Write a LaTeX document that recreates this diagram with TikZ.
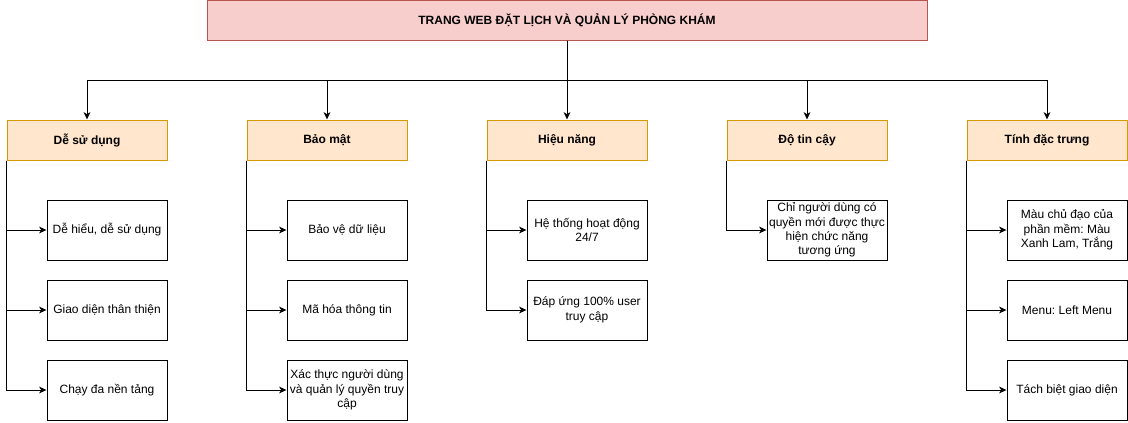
\documentclass[tikz,border=0pt]{standalone}
\usepackage{fontspec}
\setmainfont{Liberation Sans}
\frenchspacing
\usetikzlibrary{arrows.meta}
\definecolor{titlefill}{HTML}{F8CECC}
\definecolor{titledraw}{HTML}{B85450}
\definecolor{catfill}{HTML}{FFE6CC}
\definecolor{catdraw}{HTML}{D79B00}
\tikzset{
  base/.style={font=\fontsize{9pt}{10.8pt}\selectfont, align=center, inner sep=0pt, line width=0.75pt},
  titlebox/.style={base, draw=titledraw, fill=titlefill, minimum width=540pt, minimum height=30pt, font=\fontsize{9pt}{10.8pt}\selectfont\bfseries},
  catbox/.style={base, draw=catdraw, fill=catfill, minimum width=120pt, minimum height=30pt, font=\fontsize{9pt}{10.8pt}\selectfont\bfseries},
  leafbox/.style={base, draw=black, fill=white, minimum width=90pt, minimum height=45pt},
  arr/.style={line width=0.75pt, -{Stealth[length=5.5pt, width=5pt, inset=1.5pt]}},
}
\begin{document}
\begin{tikzpicture}[x=0.75pt, y=-0.75pt]
\useasboundingbox (0,0) rectangle (1128,422);
\node[titlebox] (title) at (567,20) {TRANG WEB ĐẶT LỊCH VÀ QUẢN LÝ PHÒNG KHÁM};
\coordinate (bus) at (567,80);
\node[catbox] (c1) at (87,140) {Dễ sử dụng};
\node[catbox] (c2) at (327,140) {Bảo mật};
\node[catbox] (c3) at (567,140) {Hiệu năng};
\node[catbox] (c4) at (807,140) {Độ tin cậy};
\node[catbox] (c5) at (1047,140) {Tính đặc trưng};

\node[leafbox] (a1) at (107,230) {Dễ hiểu, dễ sử dụng};
\node[leafbox] (a2) at (107,310) {Giao diện thân thiện};
\node[leafbox] (a3) at (107,390) {Chạy đa nền tảng};

\node[leafbox] (b1) at (347,230) {Bảo vệ dữ liệu};
\node[leafbox] (b2) at (347,310) {Mã hóa thông tin};
\node[leafbox] (b3) at (347,390) {Xác thực người dùng\\và quản lý quyền truy\\cập};

\node[leafbox] (d1) at (587,230) {Hệ thống hoạt động\\24/7};
\node[leafbox] (d2) at (587,310) {Đáp ứng 100\% user\\truy cập};

\node[leafbox] (e1) at (827,230) {Chỉ người dùng có\\quyền mới được thực\\hiện chức năng\\tương ứng};

\node[leafbox] (f1) at (1067,230) {Màu chủ đạo của\\phần mềm: Màu\\Xanh Lam, Trắng};
\node[leafbox] (f2) at (1067,310) {Menu: Left Menu};
\node[leafbox] (f3) at (1067,390) {Tách biệt giao diện};

\draw[arr] (title.south) -- (bus) -| (c1.north);
\draw[arr] (title.south) -- (bus) -| (c2.north);
\draw[arr] (title.south) -- (c3.north);
\draw[arr] (title.south) -- (bus) -| (c4.north);
\draw[arr] (title.south) -- (bus) -| (c5.north);

\foreach \c/\l in {c1/a1,c1/a2,c1/a3,c2/b1,c2/b2,c2/b3,c3/d1,c3/d2,c4/e1,c5/f1,c5/f2,c5/f3}
  \draw[arr] (\c.south west) |- (\l.west);
\end{tikzpicture}
\end{document}
